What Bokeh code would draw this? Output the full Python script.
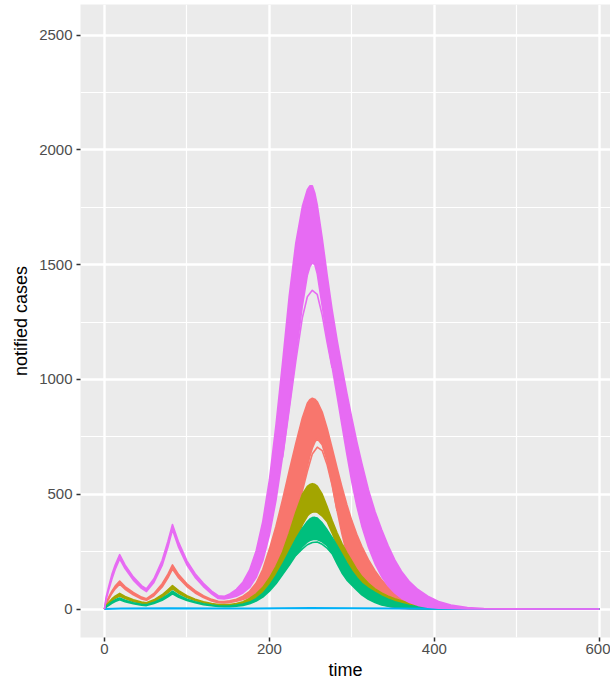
from bokeh.plotting import figure
from bokeh.models import Range1d, FixedTicker
from bokeh.embed import file_html
from bokeh.resources import INLINE

# ---- data ----
time = [0, 2, 5, 9, 13, 18.5, 25, 35, 45, 51, 60, 70, 77, 82.5, 90, 100, 110, 120, 130, 138,
        145, 152, 160, 168, 176, 184, 192, 200, 208, 216, 224, 232, 240, 246, 249, 252, 255, 258,
        264, 270, 276, 282, 288, 294, 300, 306, 312, 320, 328, 336, 344, 352, 360, 370, 380, 392,
        405, 420, 440, 460, 490, 530, 600]

magenta_hi = [0, 50, 95, 150, 192, 237, 192, 140, 102, 88, 132, 212, 295, 368, 290, 210, 154, 112, 78, 58,
              55, 66, 86, 118, 170, 254, 382, 562, 802, 1074, 1362, 1594, 1754, 1826, 1843, 1843, 1812, 1760,
              1616, 1454, 1304, 1172, 1052, 938, 830, 728, 635, 520, 425, 346, 275, 214, 165, 118, 85, 56,
              33, 17, 6.5, 2.5, 0.7, 0.15, 0]
magenta_lo = [0, 40, 80, 130, 172, 218, 176, 126, 90, 76, 116, 190, 270, 345, 268, 192, 138, 98, 66, 46,
              44, 48, 56, 70, 94, 138, 210, 322, 474, 666, 882, 1106, 1322, 1454, 1490, 1508, 1500, 1460,
              1320, 1180, 1055, 930, 800, 672, 552, 448, 362, 270, 198, 142, 100, 70, 47, 28, 16, 8,
              4, 2, 0.7, 0.2, 0, 0, 0]
magenta_out_t = [216, 224, 232, 240, 246, 252, 258, 264, 270, 276]
magenta_out = [660, 868, 1080, 1270, 1360, 1388, 1370, 1280, 1160, 1050]

salmon_hi = [0, 28, 50, 78, 100, 122, 98, 72, 52, 45, 68, 110, 152, 192, 150, 110, 80, 58, 42, 34,
             33, 36, 43, 56, 77, 113, 173, 261, 361, 477, 601, 721, 833, 896, 912, 918, 914, 903,
             858, 786, 702, 615, 531, 453, 384, 324, 273, 215, 167, 127, 95, 71, 53, 37, 24, 12,
             5, 1.7, 0.5, 0.1, 0, 0, 0]
salmon_lo = [0, 22, 42, 68, 88, 108, 86, 62, 44, 38, 58, 96, 136, 174, 135, 98, 70, 50, 35, 28,
             27, 29, 34, 42, 52, 62, 80, 112, 170, 245, 330, 422, 528, 620, 665, 700, 726, 742,
             715, 645, 545, 430, 326, 238, 170, 124, 91, 59, 37, 22, 12, 6, 2.4, 0.8, 0.2, 0,
             0, 0, 0, 0, 0, 0, 0]
salmon_out_t = [224, 232, 240, 246, 252, 258, 264, 270, 276, 282]
salmon_out = [330, 410, 515, 600, 675, 705, 690, 628, 540, 428]

olive_hi = [0, 15, 28, 44, 56, 68, 55, 40, 30, 27, 40, 62, 84, 102, 80, 58, 43, 32, 24, 20,
            19, 20, 24, 32, 46, 66, 94, 135, 186, 248, 330, 420, 500, 534, 542, 546, 543, 535,
            500, 445, 385, 332, 285, 245, 208, 172, 142, 112, 88, 70, 56, 45, 36, 27, 19, 12,
            6, 2.5, 0.8, 0.2, 0, 0, 0]
olive_lo = [0, 11, 22, 36, 47, 57, 46, 33, 25, 22, 33, 52, 72, 88, 69, 50, 37, 27, 20, 16,
            15, 15, 18, 23, 31, 44, 62, 84, 115, 158, 213, 290, 368, 405, 416, 422, 424, 422,
            405, 380, 332, 277, 225, 180, 142, 110, 84, 58, 40, 27, 18, 12, 8, 5, 3, 1.5,
            0.8, 0.3, 0.1, 0, 0, 0, 0]

green_hi = [0, 10, 19, 31, 40, 48, 38, 27, 21, 19, 29, 46, 63, 78, 60, 43, 32, 23, 17, 14,
            13, 14, 17, 22, 30, 45, 68, 102, 145, 195, 250, 305, 352, 381, 392, 398, 399, 396,
            375, 345, 312, 276, 238, 200, 165, 136, 112, 90, 72, 56, 43, 32, 23.5, 15.5, 9.5, 4.5,
            2, 0.8, 0.3, 0.1, 0, 0, 0]
green_lo = [0, 8, 15, 25, 33, 40, 32, 23, 17, 15, 24, 38, 53, 66, 51, 37, 27, 19, 14, 11,
            10, 10, 12, 16, 23, 35, 52, 78, 110, 150, 190, 234, 272, 292, 298, 302, 304, 303,
            293, 276, 241, 198, 157, 126, 104, 82, 62, 42, 28, 18, 12, 8, 5, 3, 1.5, 0.7,
            0.3, 0.1, 0, 0, 0, 0, 0]
green_out_t = [232, 240, 246, 252, 258, 264, 270, 276]
green_out = [234, 262, 280, 290, 292, 282, 265, 241]

blue_t = [0, 20, 80, 140, 250, 350, 450, 600]
blue_v = [0, 2, 3, 2, 4, 2, 0.5, 0]

x_ticks = [0, 200, 400, 600]
x_minor = [100, 300, 500]
y_ticks = [0, 500, 1000, 1500, 2000, 2500]
y_minor = [250, 750, 1250, 1750, 2250]

# ---- figure ----
p = figure(width=610, height=685, output_backend="svg", toolbar_location=None,
           x_range=Range1d(-29, 613.5), y_range=Range1d(-124, 2633),
           min_border_left=80, min_border_right=0, min_border_top=4, min_border_bottom=48)
p.background_fill_color = "#EBEBEB"
p.border_fill_color = "white"
p.outline_line_color = None

p.xgrid.ticker = FixedTicker(ticks=x_ticks, minor_ticks=x_minor)
p.ygrid.ticker = FixedTicker(ticks=y_ticks, minor_ticks=y_minor)
for g in (p.xgrid[0], p.ygrid[0]):
    g.grid_line_color = "white"
    g.grid_line_width = 2.4
    g.minor_grid_line_color = "white"
    g.minor_grid_line_width = 1.2

p.xaxis.ticker = FixedTicker(ticks=x_ticks)
p.yaxis.ticker = FixedTicker(ticks=y_ticks)
for ax in (p.xaxis[0], p.yaxis[0]):
    ax.axis_line_color = None
    ax.minor_tick_line_color = None
    ax.major_tick_line_color = "#333333"
    ax.major_tick_line_width = 1.5
    ax.major_tick_out = 4
    ax.major_tick_in = 0
    ax.major_label_text_color = "#4D4D4D"
    ax.major_label_text_font = "Liberation Sans"
    ax.major_label_text_font_size = "15px"
    ax.axis_label_text_font = "Liberation Sans"
    ax.axis_label_text_font_size = "18px"
    ax.axis_label_text_font_style = "normal"
    ax.axis_label_text_color = "black"
p.xaxis.axis_label = "time"
p.yaxis.axis_label = "notified cases"
p.xaxis.major_label_standoff = 2
p.xaxis.axis_label_standoff = 3
p.yaxis.major_label_standoff = 4
p.yaxis.axis_label_standoff = 5

LW = 1.6

def band(hi, lo, color, out_t=None, out=None):
    p.varea(x=time, y1=lo, y2=hi, fill_color=color, fill_alpha=1.0)
    p.line(time, hi, line_color=color, line_width=LW, line_join="round")
    p.line(time, lo, line_color=color, line_width=LW, line_join="round")
    if out_t is not None:
        p.line(out_t, out, line_color=color, line_width=LW, line_join="round")

band(salmon_hi, salmon_lo, "#F8766D", salmon_out_t, salmon_out)
band(olive_hi, olive_lo, "#A3A500")
band(green_hi, green_lo, "#00BF7D", green_out_t, green_out)
p.line(blue_t, blue_v, line_color="#00B0F6", line_width=2)
band(magenta_hi, magenta_lo, "#E76BF3", magenta_out_t, magenta_out)

open("out.html", "w").write(file_html(p, INLINE))
